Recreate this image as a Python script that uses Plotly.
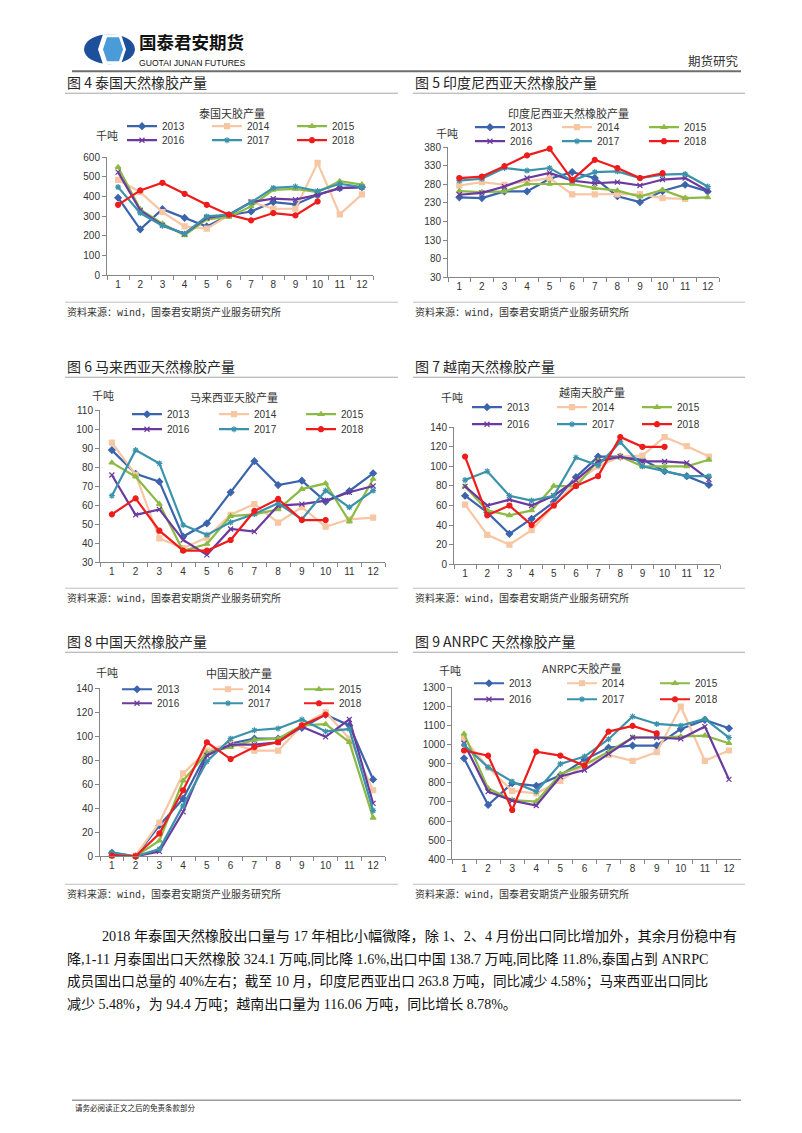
import plotly.graph_objects as go

# The page is 802x1133; the browser body has an 8px margin, so the figure is
# drawn 16px smaller and page coordinates are shifted by 8px.
PAGE_W, PAGE_H = 802, 1133
OFF = 8
W, H = PAGE_W - 2 * OFF, PAGE_H - 2 * OFF
# small vertical calibration observed between set and rendered positions
VY0, VSHIFT, VSCALE = 82, 5, 0.9892


def px(x):
    return (x - OFF) / W


def py(y):
    y = VY0 + (y - VSHIFT - VY0) / VSCALE
    return 1 - (y - OFF) / H


# ---------------- data ----------------
months = [str(i) for i in range(1, 13)]
years = ["2013", "2014", "2015", "2016", "2017", "2018"]

thai_2013 = [394, 233, 336, 292, 248, 305, 324, 372, 360, 409, 443, 448]
thai_2014 = [485, 422, 321, 248, 237, 304, 372, 338, 338, 571, 309, 411]
thai_2015 = [549, 335, 262, 203, 284, 296, 350, 434, 439, 422, 478, 461]
thai_2016 = [524, 330, 254, 211, 292, 308, 372, 389, 384, 409, 443, 448]
thai_2017 = [448, 316, 252, 211, 299, 308, 370, 444, 451, 428, 465, 448]
thai_2018 = [358, 431, 470, 414, 358, 308, 279, 316, 304, 375]

indo_2013 = [245, 243, 261, 261, 295, 313, 297, 248, 232, 262, 279, 261]
indo_2014 = [277, 286, 279, 288, 297, 253, 253, 253, 254, 243, 241]
indo_2015 = [262, 259, 261, 281, 281, 281, 270, 263, 247, 265, 243, 245]
indo_2016 = [252, 257, 274, 297, 311, 290, 283, 286, 277, 293, 297, 263]
indo_2017 = [290, 295, 324, 317, 324, 290, 313, 315, 297, 306, 308, 274]
indo_2018 = [297, 301, 329, 358, 376, 292, 346, 324, 297, 310]

mala_2013 = [89, 76.5, 72.4, 43.5, 50.5, 66.8, 83.2, 70.6, 72.9, 61.9, 67.5, 76.8]
mala_2014 = [92.9, 76, 42.6, 37.4, 43, 55, 60.6, 50.8, 59, 48.7, 52.6, 53.5]
mala_2015 = [82.4, 75, 60.6, 36, 39.6, 54.3, 55.2, 57.8, 68.5, 71.5, 51.4, 73.8]
mala_2016 = [75.9, 54.9, 57.8, 41.7, 33.9, 47.5, 46.1, 59.8, 60.6, 62.4, 66.8, 70.1]
mala_2017 = [65, 89, 82, 49.6, 44.4, 51, 55.4, 61, 52.6, 67.7, 58.9, 67.7]
mala_2018 = [55.2, 63.6, 46.6, 36.1, 36.1, 41.7, 57, 63.3, 52.2, 52.2]

viet_2013 = [70, 53, 31, 46.5, 63.5, 89, 110, 110, 107, 95, 90, 81]
viet_2014 = [61, 30, 20, 34.7, 60, 84, 100, 110, 111, 130, 120.6, 110]
viet_2015 = [79.5, 55, 50, 55, 80, 79.5, 106, 110, 100, 100, 100, 106.7]
viet_2016 = [79.5, 60, 66, 60, 70, 86, 105, 110, 105, 105, 103.6, 86.6]
viet_2017 = [86, 95, 70, 65, 70, 109, 101, 125, 100, 95, 90, 90]
viet_2018 = [110, 50, 60, 40, 60, 80, 90, 130, 120, 120]

china_2013 = [2.8, 0, 25.7, 48, 86, 94, 98, 98, 107, 118, 109, 64]
china_2014 = [0.5, 0.5, 28, 69, 88, 94, 88, 88, 109, 120, 98, 55]
china_2015 = [1, 0, 13, 63, 86, 91, 97, 98, 109, 110, 95, 32]
china_2016 = [1, 0, 4, 37, 84, 93, 93, 95, 108, 99.5, 114, 44]
china_2017 = [3.3, 0, 6, 42, 79, 98, 105, 106.5, 114, 104, 106, 38]
china_2018 = [0.5, 0, 19, 55, 95, 81, 91, 95, 109, 118]

anrpc_2013 = [928, 684, 798, 784, 840, 920, 984, 995, 995, 1082, 1129, 1085]
anrpc_2014 = [1030, 880, 758, 745, 810, 894, 946, 915, 960, 1199, 915, 969]
anrpc_2015 = [1056, 771, 710, 702, 845, 894, 963, 1037, 1037, 1042, 1047, 1007]
anrpc_2016 = [1007, 754, 707, 681, 833, 867, 951, 1037, 1037, 1030, 1094, 818]
anrpc_2017 = [998, 881, 806, 754, 899, 937, 1028, 1147, 1108, 1099, 1134, 1037]
anrpc_2018 = [969, 942, 658, 963, 942, 890, 1068, 1098, 1059]

chart_titles = ["泰国天胶产量", "印度尼西亚天然橡胶产量", "马来西亚天胶产量",
                "越南天胶产量", "中国天胶产量", "ANRPC天胶产量"]
captions = ["图 4 泰国天然橡胶产量", "图 5 印度尼西亚天然橡胶产量",
            "图 6 马来西亚天然橡胶产量", "图 7 越南天然橡胶产量",
            "图 8 中国天然橡胶产量", "图 9 ANRPC 天然橡胶产量"]
unit_label = "千吨"
source_text = "资料来源：wind，国泰君安期货产业服务研究所"

series = [
    [thai_2013, thai_2014, thai_2015, thai_2016, thai_2017, thai_2018],
    [indo_2013, indo_2014, indo_2015, indo_2016, indo_2017, indo_2018],
    [mala_2013, mala_2014, mala_2015, mala_2016, mala_2017, mala_2018],
    [viet_2013, viet_2014, viet_2015, viet_2016, viet_2017, viet_2018],
    [china_2013, china_2014, china_2015, china_2016, china_2017, china_2018],
    [anrpc_2013, anrpc_2014, anrpc_2015, anrpc_2016, anrpc_2017, anrpc_2018],
]

# ---------------- styles / layout geometry ----------------
colors = ["#3B64AD", "#F7C6A3", "#8DBA45", "#6B3A9E", "#3B93AB", "#EE1C1C"]
symbols = ["diamond", "square", "triangle-up", "x-thin", "asterisk", "circle"]

# plot box (x0, ytop, x1, ybottom), y range, dtick, title pos, unit pos,
# legend rows, legend line start, column spacing  (page pixels)
specs = [
    ((107, 157, 373, 275), [0, 600], 100, (232, 113), (107, 135), (126, 140), 132, 83),
    ((448, 147, 719, 277), [30, 380], 50, (568, 113), (447, 133), (127, 141), 480, 85),
    ((100, 410, 385, 562), [30, 110], 10, (234, 397), (103, 395), (414, 429), 137, 85),
    ((454, 427, 720, 564), [0, 140], 20, (592, 392), (452, 397), (407, 424), 477, 83),
    ((100, 688, 385, 856), [0, 140], 20, (239, 673), (107, 672), (689, 703), 127, 89),
    ((452, 687, 741, 859), [400, 1300], 100, (582, 668), (450, 670), (683, 699), 479, 91),
]

FONT = "Liberation Sans, Noto Sans CJK SC, sans-serif"
CJK = "Noto Sans CJK SC, sans-serif"
SERIF = "Liberation Serif, Noto Sans CJK SC, serif"
AXC = "#868686"

fig = go.Figure()
layout = dict(
    width=W, height=H, margin=dict(l=0, r=0, t=0, b=0),
    paper_bgcolor="white", plot_bgcolor="white", showlegend=True,
    font=dict(family=FONT, size=10, color="#333"),
)
annotations = []
shapes = []


def text(t, x, y, size, family, color="#333", anchor="left", vanchor="middle"):
    annotations.append(dict(text=t, x=px(x), y=py(y), xref="paper", yref="paper",
                            showarrow=False, xanchor=anchor, yanchor=vanchor,
                            font=dict(size=size, color=color, family=family)))


def hline(x0, x1, y, color, width):
    shapes.append(dict(type="line", xref="paper", yref="paper", x0=px(x0), x1=px(x1),
                       y0=py(y), y1=py(y), line=dict(color=color, width=width)))


for i, (data, spec) in enumerate(zip(series, specs)):
    (x0, yt, x1, yb), yr, dt, tpos, upos, lrows, lx, lsp = spec
    n = i + 1
    xa = "x" if n == 1 else f"x{n}"
    ya = "y" if n == 1 else f"y{n}"
    lg1 = "legend" if n == 1 else f"legend{2 * n - 1}"
    lg2 = f"legend{2 * n}"
    for k, (yr_name, vals) in enumerate(zip(years, data)):
        fig.add_trace(go.Scatter(
            x=months[:len(vals)], y=vals, name=yr_name, mode="lines+markers",
            line=dict(color=colors[k], width=2.2),
            marker=dict(symbol=symbols[k], size=5, color=colors[k],
                        line=dict(color=colors[k], width=1.2)),
            xaxis=xa, yaxis=ya, legend=lg1 if k < 3 else lg2,
            cliponaxis=False, hoverinfo="x+y+name",
        ))
    axx = dict(domain=[px(x0), px(x1)], anchor=ya, type="category",
               categoryorder="array", categoryarray=months,
               range=[-0.5, 11.5], tickson="boundaries", ticks="outside",
               ticklen=4, tickcolor=AXC, showline=True, linecolor=AXC,
               linewidth=1, showgrid=False, zeroline=False,
               tickfont=dict(size=10, color="#333", family=FONT), fixedrange=True)
    axy = dict(domain=[py(yb), py(yt)], anchor=xa, range=yr, dtick=dt, tick0=yr[0],
               ticks="outside", ticklen=4, tickcolor=AXC, showline=True,
               linecolor=AXC, linewidth=1, showgrid=False, zeroline=False,
               tickfont=dict(size=10, color="#333", family=FONT), fixedrange=True)
    layout["xaxis" if n == 1 else f"xaxis{n}"] = axx
    layout["yaxis" if n == 1 else f"yaxis{n}"] = axy
    for lg, ry in ((lg1, lrows[0]), (lg2, lrows[1])):
        layout[lg] = dict(
            x=px(lx - 10), y=py(ry), xanchor="left", yanchor="middle",
            orientation="h", entrywidth=lsp - 43, entrywidthmode="pixels",
            bgcolor="rgba(0,0,0,0)", borderwidth=0, itemwidth=30,
            font=dict(size=10, color="#333", family=FONT), traceorder="normal",
            itemclick=False, itemdoubleclick=False,
        )
    text(chart_titles[i], tpos[0], tpos[1], 11, CJK, anchor="center")
    text(unit_label, upos[0], upos[1], 11, CJK, anchor="center")

# captions, separators and sources
cap_rows = [82, 366, 641]
src_rows = [312, 598, 894]
cols = [(65, 398), (413, 745)]
for r in range(3):
    for c in range(2):
        idx = r * 2 + c
        cx0, cx1 = cols[c]
        text(captions[idx], cx0, cap_rows[r], 14, CJK, color="#262626")
        hline(cx0, cx1, cap_rows[r] + 11, "#A6A6A6", 1)
        hline(cx0, cx1, src_rows[r] - 10, "#BFBFBF", 1)
        text(source_text, cx0, src_rows[r], 10, "Liberation Mono, Noto Sans CJK SC, monospace")

# body paragraph
para = [
    (100, 14.2, "2018 年泰国天然橡胶出口量与 17 年相比小幅微降，除 1、2、4 月份出口同比增加外，其余月份稳中有"),
    (65, 14.1, "降,1-11 月泰国出口天然橡胶 324.1 万吨,同比降 1.6%,出口中国 138.7 万吨,同比降 11.8%,泰国占到 ANRPC"),
    (65, 13.6, "成员国出口总量的 40%左右；截至 10 月，印度尼西亚出口 263.8 万吨，同比减少 4.58%；马来西亚出口同比"),
    (65, 14.0, "减少 5.48%，为 94.4 万吨；越南出口量为 116.06 万吨，同比增长 8.78%。"),
]
for j, (xs, fs, line) in enumerate(para):
    text(line, xs, 936 + 23 * j, fs, SERIF, color="#111")

# header
text("<b>国泰君安期货</b>", 137, 55.5, 17.5, CJK, color="#111", vanchor="bottom")
text("GUOTAI JUNAN FUTURES", 137, 56, 8.6, "Liberation Sans Narrow, Liberation Sans",
     color="#111", vanchor="top")
text("期货研究", 741, 60, 12.5, CJK, anchor="right")
hline(72, 741, 71, "#6E6E6E", 2)

# logo
shapes.append(dict(type="circle", xref="paper", yref="paper", x0=px(84), x1=px(135),
                   y0=py(64), y1=py(34), fillcolor="#1D4F9B", line=dict(width=0)))
shapes.append(dict(type="path", xref="paper", yref="paper",
                   path=f"M {px(103)},{py(34)} L {px(121)},{py(34)} L {px(126)},{py(49)} "
                        f"L {px(121)},{py(64)} L {px(103)},{py(64)} L {px(98)},{py(49)} Z",
                   fillcolor="white", line=dict(width=0)))
shapes.append(dict(type="path", xref="paper", yref="paper",
                   path=f"M {px(107)},{py(37)} L {px(119)},{py(37)} L {px(123)},{py(49)} "
                        f"L {px(119)},{py(61)} L {px(107)},{py(61)} L {px(103)},{py(49)} Z",
                   fillcolor="#4A9BD8", line=dict(width=0)))

# footer
hline(72, 741, 1100, "#9A9A9A", 1.5)
text("请务必阅读正文之后的免责条款部分", 73, 1107, 7.5, CJK, color="#222")

layout["annotations"] = annotations
layout["shapes"] = shapes
fig.update_layout(**layout)
fig.write_html("out.html")
